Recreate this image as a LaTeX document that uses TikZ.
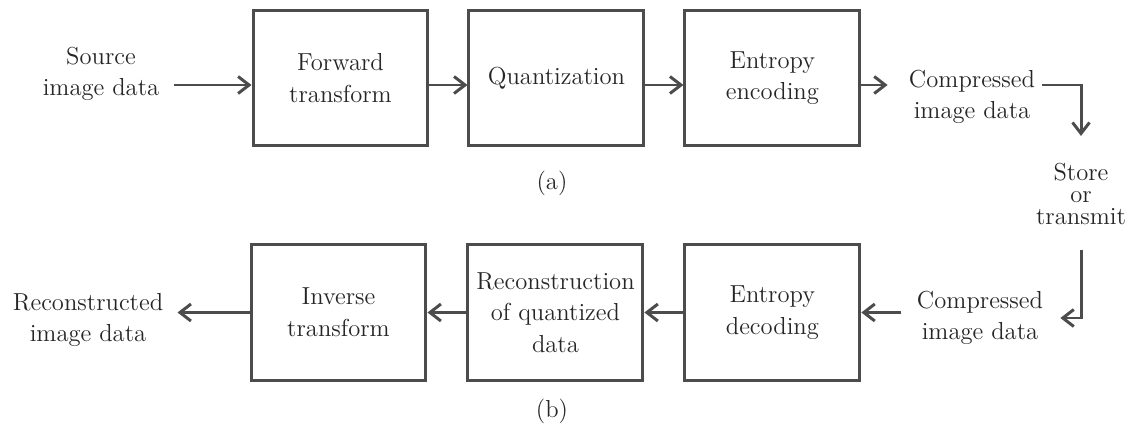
\documentclass[tikz,border=0pt]{standalone}
\usetikzlibrary{arrows.meta, positioning}

\begin{document}
\begin{tikzpicture}[x=0.02cm, y=-0.02cm,
    font=\fontsize{14}{18}\selectfont,
    line width=1.7pt, draw=black!70, text=black!85,
    block/.style={draw, minimum width=3.5cm, minimum height=2.72cm, align=center},
    lbl/.style={align=center},
    arr/.style={-{Straight Barb[length=2.2mm, width=3.4mm]}}]

\useasboundingbox (0,0) rectangle (1137,430);

% Encoder
\node[block] (fwd) at (340.5,78) {Forward\\transform};
\node[block, right=0.76cm of fwd] (quant) {Quantization};
\node[block, right=0.76cm of quant] (enc) {Entropy\\encoding};

\node[lbl] (src) at (101,74) {Source\\image data};
\node[lbl] (cmpa) at (972,97) {Compressed\\image data};
\node (capa) at (552,183) {(a)};

% Store or transmit
\node[lbl, font=\fontsize{14}{12.5}\selectfont] (store) at (1081,194) {Store\\or\\transmit};

% Decoder
\node[block] (inv) at (338.5,312.5) {Inverse\\transform};
\node[block, right=0.78cm of inv] (recq) {Reconstruction\\of quantized\\data};
\node[block, right=0.78cm of recq] (dec) {Entropy\\decoding};

\node[lbl] (rec) at (88,320) {Reconstructed\\image data};
\node[lbl] (cmpb) at (980,318) {Compressed\\image data};
\node (capb) at (552,411) {(b)};

% Arrows (top row runs a little below the box centres)
\draw[arr] ([yshift=-0.14cm]fwd.west -| src.east) ++(0.14cm,0) -- ([yshift=-0.14cm]fwd.west);
\draw[arr] ([yshift=-0.14cm]fwd.east) -- ([yshift=-0.14cm]quant.west);
\draw[arr] ([yshift=-0.14cm]quant.east) -- ([yshift=-0.14cm]enc.west);
\draw[arr] ([yshift=-0.14cm]enc.east) -- ([yshift=-0.14cm, xshift=-0.28cm]enc.east -| cmpa.west);
\draw[arr, shorten >=0.4cm] ([yshift=-0.14cm]enc.east -| cmpa.east) -| (store.north);
\draw[arr, shorten <=0.35cm, shorten >=0.2cm] (store.south) |- (cmpb.east);
\draw[arr] ([xshift=-0.18cm]cmpb.west |- dec) -- (dec.east);
\draw[arr] (dec) -- (recq);
\draw[arr] (recq) -- (inv);
\draw[arr] (inv.west) -- ([xshift=0.14cm]inv.west -| rec.east);

\end{tikzpicture}
\end{document}
